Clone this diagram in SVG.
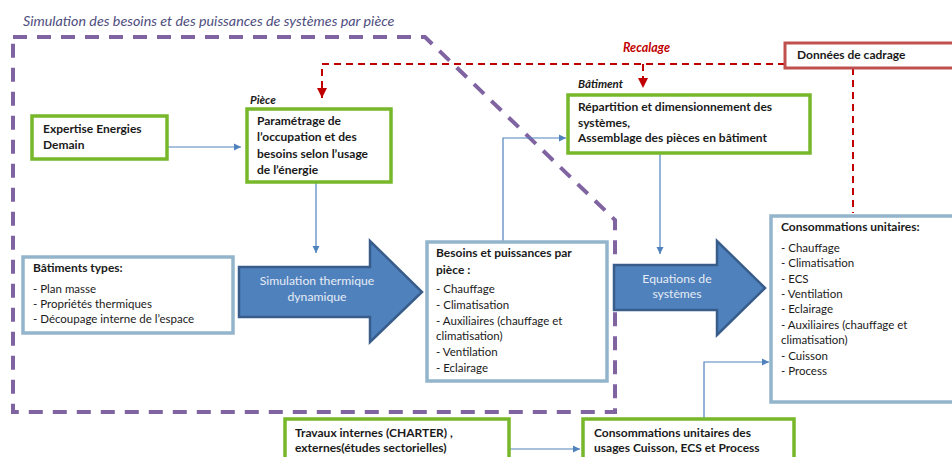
<svg xmlns="http://www.w3.org/2000/svg" width="952" height="457" viewBox="0 0 952 457">
<defs>
<marker id="ab" markerWidth="8" markerHeight="8" refX="7" refY="4" orient="auto" markerUnits="userSpaceOnUse"><path d="M0,0.5 L7,4 L0,7.5 Z" fill="#4f81bd"/></marker>
<marker id="ar" markerWidth="12" markerHeight="10" refX="10" refY="5" orient="auto" markerUnits="userSpaceOnUse"><path d="M0,0 L10,5 L0,10 Z" fill="#c00000"/></marker>
</defs>
<style>
text{font-family:Lato,"Liberation Sans",sans-serif;font-size:11.5px;fill:#1a1a1a}
.b{font-weight:bold;font-size:12px}
.lbl{font-weight:bold;font-style:italic;font-size:11.5px}
.g{fill:#fff;stroke:#77b82a;stroke-width:3.5}
.lb{fill:#fff;stroke:#93b5cc;stroke-width:3.5}
.rd{fill:#fff;stroke:#c0504d;stroke-width:3}
.big{fill:#4f81bd;stroke:#385d8a;stroke-width:2.5}
.wt{fill:#e6ecf5;font-size:12.2px}
.c{fill:none;stroke:#4f81bd;stroke-width:1.2;marker-end:url(#ab)}
.rc{fill:none;stroke:#c00000;stroke-width:2;stroke-dasharray:7,5}
</style>
<text x="23" y="26" style="font-style:italic;font-size:14.3px;fill:#4e4e7e">Simulation des besoins et des puissances de systèmes par pièce</text>
<path d="M13,37 L425,37 L615,220 L615,412 L13,412 Z" fill="none" stroke="#8064a2" stroke-width="4" stroke-dasharray="14,10"/>
<g id="connectors">
<path class="rc" d="M785,64 L322,64 L322,98" marker-end="url(#ar)"/>
<path class="rc" d="M643,64 L643,88" marker-end="url(#ar)"/>
<path class="rc" d="M853,68 L853,213"/>
<path class="c" d="M167,147 L241,147"/>
<path class="c" d="M316,182 L316,253"/>
<path class="c" d="M503,242 L503,138 L566,138"/>
<path class="c" d="M660,153 L660,254"/>
<path class="c" d="M509,449 L580,449"/>
<path class="c" d="M704,419 L704,362 L769,362"/>
</g>
<text x="623" y="52" style="font-weight:bold;font-style:italic;fill:#c00000;font-size:12.5px">Recalage</text>
<g id="donnees"><rect class="rd" x="785" y="43" width="180" height="25"/><text class="b" x="797" y="59">Données de cadrage</text></g>
<g id="expertise"><rect class="g" x="32" y="116" width="135" height="43"/><text class="b" x="43" y="133">Expertise Energies</text><text class="b" x="43" y="149">Demain</text></g>
<g id="piece"><text class="lbl" x="250" y="104">Pièce</text><rect class="g" x="247" y="109" width="144" height="73"/>
<text class="b" x="257" y="125">Paramétrage de</text><text class="b" x="257" y="141">l’occupation  et des</text><text class="b" x="257" y="158">besoins selon l’usage</text><text class="b" x="257" y="174">de l’énergie</text></g>
<g id="batiment"><text class="lbl" x="578" y="88">Bâtiment</text><rect class="g" x="568" y="95" width="242" height="58"/>
<text class="b" x="578" y="111">Répartition et dimensionnement des</text><text class="b" x="578" y="127">systèmes,</text><text class="b" x="578" y="142">Assemblage des pièces en bâtiment</text></g>
<g id="types"><rect class="lb" x="23" y="257" width="210" height="76"/><text class="b" x="33" y="272">Bâtiments types:</text><text x="33" y="293">- Plan masse</text><text x="33" y="308">- Propriétés thermiques</text><text x="33" y="323">- Découpage interne de l’espace</text></g>
<g id="simulation"><path class="big" d="M239,267 L370,267 L370,241 L422,292 L370,342 L370,317 L239,317 Z"/><text class="wt" x="317" y="285" text-anchor="middle">Simulation thermique</text><text class="wt" x="317" y="301" text-anchor="middle">dynamique</text></g>
<g id="besoins"><rect class="lb" x="427" y="242" width="180" height="139"/>
<text class="b" x="436" y="257">Besoins et puissances  par</text><text class="b" x="436" y="274">pièce :</text>
<text x="436" y="293">- Chauffage</text><text x="436" y="309">- Climatisation</text><text x="436" y="325">- Auxiliaires (chauffage et</text><text x="436" y="340">climatisation)</text><text x="436" y="356">- Ventilation</text><text x="436" y="372">- Eclairage</text></g>
<g id="equations"><path class="big" d="M614,265 L717,265 L717,241 L765,288 L717,335 L717,310 L614,310 Z"/><text class="wt" x="677" y="283" text-anchor="middle">Equations de</text><text class="wt" x="677" y="298" text-anchor="middle">systèmes</text></g>
<g id="consommations"><rect class="lb" x="771" y="216" width="200" height="186"/>
<text class="b" x="781" y="231">Consommations unitaires:</text>
<text x="781" y="252">- Chauffage</text><text x="781" y="267">- Climatisation</text><text x="781" y="283">- ECS</text><text x="781" y="298">- Ventilation</text><text x="781" y="313">- Eclairage</text><text x="781" y="329">- Auxiliaires (chauffage  et</text><text x="781" y="344">climatisation)</text><text x="781" y="360">- Cuisson</text><text x="781" y="375">- Process</text></g>
<g id="travaux"><rect class="g" x="285" y="419" width="224" height="50"/><text class="b" x="295" y="437">Travaux internes (CHARTER) ,</text><text class="b" x="295" y="452">externes(études sectorielles)</text></g>
<g id="usages"><rect class="g" x="583" y="419" width="211" height="50"/><text class="b" x="594" y="437">Consommations unitaires des</text><text class="b" x="594" y="452">usages Cuisson,  ECS et Process</text></g>
</svg>
